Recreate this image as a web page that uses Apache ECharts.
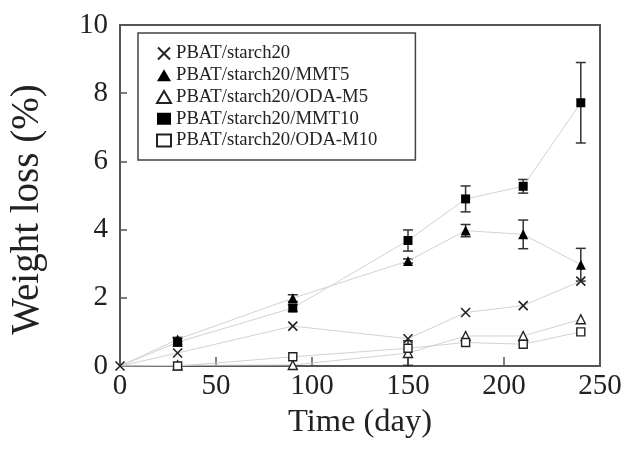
<!DOCTYPE html>
<html>
<head>
<meta charset="utf-8">
<script src="https://cdn.jsdelivr.net/npm/echarts@6/dist/echarts.min.js"></script>
<style>html,body{margin:0;padding:0;background:#fff;}#c{width:627px;height:457px;}</style>
</head>
<body>
<div id="c"></div>
<script>
const days = [0, 30, 90, 150, 180, 210, 240];
const seriesNames = ['PBAT/starch20', 'PBAT/starch20/MMT5', 'PBAT/starch20/ODA-M5', 'PBAT/starch20/MMT10', 'PBAT/starch20/ODA-M10'];
const starch20 = [0, 0.38, 1.17, 0.80, 1.57, 1.77, 2.49];
const mmt5 = [0, 0.78, 1.99, 3.08, 3.97, 3.86, 2.97];
const odaM5 = [0, 0.02, 0.03, 0.38, 0.88, 0.88, 1.37];
const mmt10 = [0, 0.70, 1.70, 3.68, 4.90, 5.27, 7.72];
const odaM10 = [0, 0.0, 0.27, 0.52, 0.69, 0.64, 1.00];
const errMmt5 = [0, 0.06, 0.10, 0.06, 0.18, 0.42, 0.48];
const errMmt10 = [0, 0.12, 0.10, 0.31, 0.38, 0.20, 1.18];
const errOdaM5 = [0, 0, 0, 0.36, 0, 0, 0];
const xTicks = [0, 50, 100, 150, 200, 250];
const yTicks = [0, 2, 4, 6, 8, 10];

const crossPath = 'path://M0,0L10,10M10,0L0,10';
const serif = 'Liberation Serif';

function pairs(vals, hideFirst) {
  return days.map((d, i) => (hideFirst && i === 0) ? { value: [d, vals[i]], symbol: 'none' } : [d, vals[i]]);
}
function errData(vals, errs) {
  const out = [];
  days.forEach((d, i) => { if (errs[i] > 0) out.push([d, vals[i] - errs[i], vals[i] + errs[i]]); });
  return out;
}
function errRender(params, api) {
  const x = api.value(0);
  const lo = api.coord([x, api.value(1)]);
  const hi = api.coord([x, api.value(2)]);
  const hw = 5;
  const st = { stroke: '#333', lineWidth: 1.5, fill: 'none' };
  return {
    type: 'group',
    children: [
      { type: 'line', shape: { x1: lo[0], y1: lo[1], x2: hi[0], y2: hi[1] }, style: st },
      { type: 'line', shape: { x1: lo[0] - hw, y1: lo[1], x2: lo[0] + hw, y2: lo[1] }, style: st },
      { type: 'line', shape: { x1: hi[0] - hw, y1: hi[1], x2: hi[0] + hw, y2: hi[1] }, style: st }
    ]
  };
}
const lineStyle = { color: '#d2d2d2', width: 1 };

const chart = echarts.init(document.getElementById('c'), null, { renderer: 'canvas' });
chart.setOption({
  animation: false,
  backgroundColor: '#fff',
  grid: { left: 119, right: 27, top: 25, bottom: 91, show: true, borderColor: '#555', borderWidth: 2, backgroundColor: 'transparent' },
  legend: {
    orient: 'vertical', left: 138, top: 33,
    padding: [11, 38, 10, 18],
    itemWidth: 14, itemHeight: 12, itemGap: 2.75,
    borderColor: '#444', borderWidth: 1.5, backgroundColor: '#fff',
    textStyle: { fontFamily: serif, fontSize: 18.7, color: '#222', lineHeight: 18 },
    data: [
      { name: seriesNames[0], icon: crossPath },
      { name: seriesNames[1], icon: 'triangle' },
      { name: seriesNames[2], icon: 'triangle' },
      { name: seriesNames[3], icon: 'rect' },
      { name: seriesNames[4], icon: 'rect' }
    ]
  },
  xAxis: {
    type: 'value', min: 0, max: 250, interval: 50,
    name: 'Time (day)', nameLocation: 'middle', nameGap: 32,
    nameTextStyle: { fontFamily: serif, fontSize: 32.5, color: '#222' },
    axisLine: { lineStyle: { color: '#555', width: 2 } },
    axisTick: { inside: true, length: 9, lineStyle: { color: '#555', width: 1.5 } },
    axisLabel: { fontFamily: serif, fontSize: 29, color: '#222', margin: 6 },
    splitLine: { show: false }
  },
  yAxis: {
    type: 'value', min: 0, max: 10, interval: 2,
    name: 'Weight loss (%)', nameLocation: 'middle', nameGap: 73,
    nameTextStyle: { fontFamily: serif, fontSize: 39, color: '#222', padding: [0, 28, 0, 0] },
    axisLine: { lineStyle: { color: '#555', width: 2 } },
    axisTick: { inside: true, length: 7, lineStyle: { color: '#555', width: 1.5 } },
    axisLabel: { fontFamily: serif, fontSize: 29, color: '#222', margin: 12 },
    splitLine: { show: false }
  },
  series: [
    { name: seriesNames[0], type: 'line', data: pairs(starch20, false), symbol: crossPath, symbolSize: 9, lineStyle: lineStyle,
      itemStyle: { color: 'rgba(0,0,0,0)', borderColor: '#222', borderWidth: 1.6 }, z: 3 },
    { name: seriesNames[1], type: 'line', data: pairs(mmt5, true), symbol: 'triangle', symbolSize: 10, lineStyle: lineStyle,
      itemStyle: { color: '#000', borderColor: '#000', borderWidth: 0 }, z: 3 },
    { name: seriesNames[2], type: 'line', data: pairs(odaM5, true), symbol: 'triangle', symbolSize: 9, lineStyle: lineStyle,
      itemStyle: { color: '#fff', borderColor: '#222', borderWidth: 1.4 }, z: 3 },
    { name: seriesNames[3], type: 'line', data: pairs(mmt10, true), symbol: 'rect', symbolSize: 9, lineStyle: lineStyle,
      itemStyle: { color: '#000', borderColor: '#000', borderWidth: 0 }, z: 3 },
    { name: seriesNames[4], type: 'line', data: pairs(odaM10, true), symbol: 'rect', symbolSize: 8, lineStyle: lineStyle,
      itemStyle: { color: '#fff', borderColor: '#222', borderWidth: 1.4 }, z: 3 },
    { type: 'custom', data: errData(mmt5, errMmt5), renderItem: errRender, z: 2, silent: true },
    { type: 'custom', data: errData(mmt10, errMmt10), renderItem: errRender, z: 2, silent: true },
    { type: 'custom', data: errData(odaM5, errOdaM5), renderItem: errRender, z: 2, silent: true }
  ]
});
</script>
</body>
</html>
